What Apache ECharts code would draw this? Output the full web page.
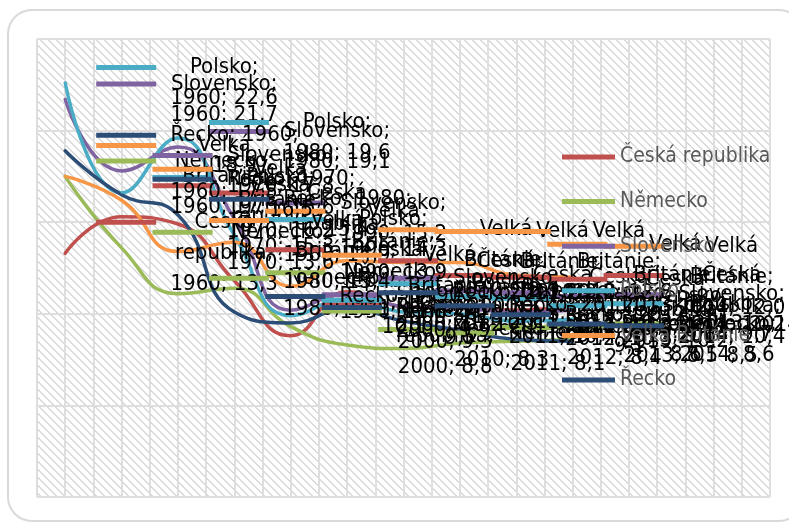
<!DOCTYPE html>
<html><head><meta charset="utf-8">
<script src="https://cdn.jsdelivr.net/npm/echarts@6/dist/echarts.min.js"></script>
<style>html,body{margin:0;padding:0;background:#fff}#c{width:789px;height:525px}</style>
</head><body><div id="c"></div>
<script>
// ---- data (porodnost na 1000 obyvatel) ----
const years = ['1960','1970','1980','1990','2000','2010','2011','2012','2013','2014'];
const blankSlots = [' ', '  ', '   '];
const ceskaRepublika = [13.3, 15.3, 14.9, 11.8, 8.8, 11.2, 10.4, 10.3, 10.2, 10.4];
const nemecko        = [17.5, 13.6, 11.1, 11.4, 9.3, 8.3, 8.1, 8.4, 8.5, 8.6];
const slovensko      = [21.7, 17.8, 19.1, 15.2, 10.2, 11.1, 10.4, 10.3, 10.1, 10.2];
const polsko         = [22.6, 16.6, 19.6, 14.3, 9.9, 10.8, 10.1, 10.0, 9.6, 9.7];
const velkaBritanie  = [17.5, 16.2, 13.4, 13.9, 11.5, 12.9, 12.8, 12.8, 12.1, 12.0];
const recko          = [18.9, 16.5, 15.4, 10.1, 9.5, 10.3, 9.6, 9.1, 8.6, 8.5];
const seriesNames = ['Česká republika','Německo','Slovensko','Polsko','Velká Británie','Řecko'];
const seriesValues = [ceskaRepublika, nemecko, slovensko, polsko, velkaBritanie, recko];
const seriesColors = ['#C0504D','#9BBB59','#8064A2','#4BACC6','#F79646','#2C4D75'];
const yTicks = [0, 5, 10, 15, 20, 25];

// ---- helpers ----
const FONT = '"DejaVu Sans Condensed", "DejaVu Sans", sans-serif';
const LABEL_SIZE = 22;
const mctx = document.createElement('canvas').getContext('2d');
mctx.font = LABEL_SIZE + 'px "DejaVu Sans Condensed", "DejaVu Sans"';
const tw = s => mctx.measureText(s).width;
// wrap width: a short name + year fits on one line, a longer one does not
const WRAP_W = (tw('Řecko; 1960;') + tw('Polsko; 1960;')) / 2;
function wrap(words, maxW) {
  const lines = []; let cur = '';
  for (const w of words) {
    const t = cur ? cur + ' ' + w : w;
    if (!cur || tw(t) <= maxW) cur = t; else { lines.push(cur); cur = w; }
  }
  if (cur) lines.push(cur);
  return lines;
}
const axisCategories = years.concat(blankSlots);
const gridSlots = axisCategories.flatMap((c, i) => [i + 'a', i + 'b']);

// hatch pattern
const pc = document.createElement('canvas'); pc.width = 8; pc.height = 8;
const px = pc.getContext('2d');
px.fillStyle = '#ffffff'; px.fillRect(0, 0, 8, 8);
px.fillStyle = '#d9d9d9';
for (let y = 0; y < 8; y++) for (let x = 0; x < 8; x++) if ((((x - y) % 8) + 8) % 8 < 2) px.fillRect(x, y, 1, 1);

const series = seriesNames.map((name, si) => ({
  name, type: 'line', xAxisIndex: 0, smooth: true,
  symbol: 'circle', symbolSize: 2, showSymbol: true,
  itemStyle: { color: seriesColors[si] },
  lineStyle: { width: 3.5, color: seriesColors[si], cap: 'round' },
  emphasis: { disabled: true },
  data: seriesValues[si].map((v, i) => {
    const words = (name + '; ' + years[i] + '; ' + v.toFixed(1).replace('.', ',')).split(' ');
    const lines = wrap(words, WRAP_W);
    const W = Math.ceil(Math.max(...lines.map(tw))) + 2;
    const text = lines.map((l, li) => (li === 0 ? '{k|}{g|}' : '{s|}') + '{t|' + l + '}').join('\n');
    return {
      value: v,
      label: {
        show: true, position: 'right', distance: 30, formatter: text,
        rich: {
          k: { width: 60, height: 5, backgroundColor: seriesColors[si], lineHeight: 31 },
          g: { width: 13, lineHeight: 31 },
          s: { width: 73, lineHeight: 31 },
          t: { width: W, align: 'center', lineHeight: 31, fontSize: LABEL_SIZE, fontFamily: FONT, color: '#000' }
        }
      }
    };
  })
}));

const chart = echarts.init(document.getElementById('c'));
chart.setOption({
  animation: false,
  backgroundColor: '#fff',
  graphic: [
    { type: 'rect', z: -20, shape: { x: 8, y: 10, width: 795, height: 511, r: 24 }, style: { fill: '#fff', stroke: '#d9d9d9', lineWidth: 2 } },
    { type: 'rect', z: -10, shape: { x: 37, y: 39, width: 733, height: 458 }, style: { fill: { image: pc, repeat: 'repeat' } } }
  ],
  grid: { left: 37, right: 19, top: 39, bottom: 28 },
  legend: {
    data: seriesNames, orient: 'vertical', left: 562, top: 146, padding: 0,
    icon: 'rect', itemWidth: 53, itemHeight: 5, itemGap: 22.6,
    textStyle: { fontSize: 21, fontFamily: FONT, color: '#595959', lineHeight: 22 }
  },
  xAxis: [
    { type: 'category', data: axisCategories, boundaryGap: true,
      axisLine: { show: false }, axisTick: { show: false }, axisLabel: { show: false }, splitLine: { show: false } },
    { type: 'category', data: gridSlots, boundaryGap: true,
      axisLine: { show: false }, axisTick: { show: false }, axisLabel: { show: false },
      splitLine: { show: true, interval: 0, lineStyle: { color: '#dedede', width: 2 } } }
  ],
  yAxis: {
    type: 'value', min: yTicks[0], max: yTicks[yTicks.length - 1], interval: yTicks[1] - yTicks[0],
    axisLine: { show: false }, axisTick: { show: false }, axisLabel: { show: false },
    splitLine: { show: true, lineStyle: { color: '#dedede', width: 2 } }
  },
  series
});
</script></body></html>
